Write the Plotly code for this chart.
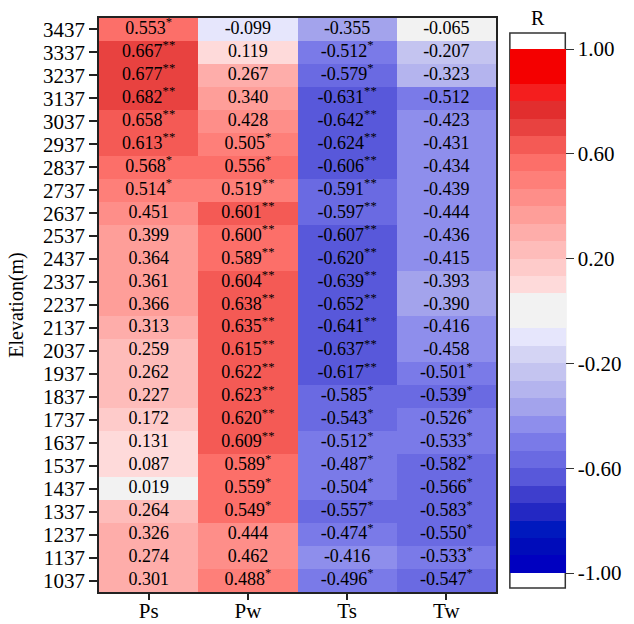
import plotly.graph_objects as go

# Elevation bands, listed from the highest to the lowest
elevations = ["3437", "3337", "3237", "3137", "3037", "2937", "2837", "2737", "2637",
              "2537", "2437", "2337", "2237", "2137", "2037", "1937", "1837", "1737",
              "1637", "1537", "1437", "1337", "1237", "1137", "1037"]
variables = ["Ps", "Pw", "Ts", "Tw"]

# Correlation coefficients (R) per elevation band
ps = [0.553, 0.667, 0.677, 0.682, 0.658, 0.613, 0.568, 0.514, 0.451, 0.399, 0.364, 0.361, 0.366,
      0.313, 0.259, 0.262, 0.227, 0.172, 0.131, 0.087, 0.019, 0.264, 0.326, 0.274, 0.301]
pw = [-0.099, 0.119, 0.267, 0.340, 0.428, 0.505, 0.556, 0.519, 0.601, 0.600, 0.589, 0.604, 0.638,
      0.635, 0.615, 0.622, 0.623, 0.620, 0.609, 0.589, 0.559, 0.549, 0.444, 0.462, 0.488]
ts = [-0.355, -0.512, -0.579, -0.631, -0.642, -0.624, -0.606, -0.591, -0.597, -0.607, -0.620,
      -0.639, -0.652, -0.641, -0.637, -0.617, -0.585, -0.543, -0.512, -0.487, -0.504, -0.557,
      -0.474, -0.416, -0.496]
tw = [-0.065, -0.207, -0.323, -0.512, -0.423, -0.431, -0.434, -0.439, -0.444, -0.436, -0.415,
      -0.393, -0.390, -0.416, -0.458, -0.501, -0.539, -0.526, -0.533, -0.582, -0.566, -0.583,
      -0.550, -0.533, -0.547]

# Significance marks (number of asterisks)
ps_sig = [1, 2, 2, 2, 2, 2, 1, 1, 0, 0, 0, 0, 0, 0, 0, 0, 0, 0, 0, 0, 0, 0, 0, 0, 0]
pw_sig = [0, 0, 0, 0, 0, 1, 1, 2, 2, 2, 2, 2, 2, 2, 2, 2, 2, 2, 2, 1, 1, 1, 0, 0, 1]
ts_sig = [0, 1, 1, 2, 2, 2, 2, 2, 2, 2, 2, 2, 2, 2, 2, 2, 1, 1, 1, 1, 1, 1, 1, 0, 1]
tw_sig = [0, 0, 0, 0, 0, 0, 0, 0, 0, 0, 0, 0, 0, 0, 0, 1, 1, 1, 1, 1, 1, 1, 1, 1, 1]

colorbar_ticks = [1.0, 0.6, 0.2, -0.2, -0.6, -1.0]

# 30 stepped colour levels from -1 to 1
level_colors = [
    (0, 0, 192), (0, 12, 186), (0, 25, 190), (35, 40, 195), (62, 62, 205),
    (88, 88, 218), (106, 106, 226), (122, 122, 232), (142, 142, 236), (163, 163, 236),
    (180, 180, 238), (196, 196, 240), (212, 212, 244), (230, 230, 252), (242, 242, 242),
    (242, 242, 242), (254, 218, 218), (254, 203, 202), (254, 188, 186), (254, 173, 170),
    (254, 158, 153), (254, 142, 137), (254, 127, 121), (252, 111, 105), (244, 90, 85),
    (232, 66, 64), (226, 46, 46), (244, 30, 30), (244, 0, 0), (244, 0, 0),
]
n_levels = len(level_colors)
eps = 1e-4
colorscale = []
for i, c in enumerate(level_colors):
    lo = 0.0 if i == 0 else i / n_levels + eps
    hi = 1.0 if i == n_levels - 1 else (i + 1) / n_levels + eps
    col = "rgb(%d,%d,%d)" % c
    colorscale.append([lo, col])
    colorscale.append([hi, col])

columns = [ps, pw, ts, tw]
sigs = [ps_sig, pw_sig, ts_sig, tw_sig]
z = [[columns[j][i] for j in range(4)] for i in range(len(elevations))]

# plot-area geometry in pixels
L, R, T, B = 99, 500, 18, 592
W, H = R - L, B - T


def px_x(p):
    return (p - L) / W


def px_y(p):
    return (B - p) / H


fig = go.Figure()
fig.add_trace(go.Heatmap(
    z=z, x=variables, y=elevations,
    colorscale=colorscale, zmin=-1, zmax=1,
    xgap=0, ygap=0, hoverinfo="skip",
    colorbar=dict(
        x=px_x(514), xanchor="left", xpad=0,
        y=px_y(311), yanchor="middle", ypad=0,
        lenmode="pixels", len=524, thickness=56,
        outlinewidth=0,
        tickvals=colorbar_ticks, ticktext=["%.2f" % v for v in colorbar_ticks],
        ticks="outside", ticklen=8, tickwidth=1.2, tickcolor="#333",
        tickfont=dict(family="Liberation Serif", size=21, color="black"),
    ),
))

# Value labels with significance asterisks
tx, ty, tt = [], [], []
for j, var in enumerate(variables):
    for i, elev in enumerate(elevations):
        v = columns[j][i]
        s = "%.3f" % v
        if sigs[j][i]:
            s += "<sup>" + "*" * sigs[j][i] + "</sup>"
        tx.append(var)
        ty.append(elev)
        tt.append(s)
fig.add_trace(go.Scatter(
    x=tx, y=ty, text=tt, mode="text",
    textfont=dict(family="Liberation Serif", size=18, color="black"),
    hoverinfo="skip", showlegend=False,
))

# Frame around the colour bar and its title
fig.add_shape(type="rect", xref="paper", yref="paper",
              x0=px_x(514), x1=px_x(570), y0=px_y(588), y1=px_y(33),
              line=dict(color="#333", width=1.5), fillcolor="rgba(0,0,0,0)")
fig.add_annotation(text="R", xref="paper", yref="paper",
                   x=px_x(542), y=px_y(18), xanchor="center", yanchor="middle",
                   showarrow=False,
                   font=dict(family="Liberation Serif", size=20, color="black"))

fig.update_xaxes(
    type="category", range=[-0.5, 3.5], automargin=False,
    showline=True, mirror=True, linecolor="#222", linewidth=1.5,
    ticks="outside", ticklen=6, tickwidth=1.5, tickcolor="#222",
    ticklabelstandoff=-7,
    tickfont=dict(family="Liberation Serif", size=21, color="black"),
    showgrid=False, zeroline=False,
)
fig.update_yaxes(
    type="category", range=[len(elevations) - 0.5, -0.5], automargin=False,
    tickmode="array", tickvals=elevations,
    showline=True, mirror=True, linecolor="#222", linewidth=1.5,
    ticks="outside", ticklen=8, tickwidth=1.5, tickcolor="#222",
    tickfont=dict(family="Liberation Serif", size=21, color="black"),
    title=dict(text="Elevation(m)", font=dict(family="Liberation Serif", size=20, color="black"),
               standoff=14),
    showgrid=False, zeroline=False,
)
fig.update_layout(
    width=634, height=624,
    margin=dict(l=L, r=634 - R, t=T, b=624 - B),
    paper_bgcolor="white", plot_bgcolor="white",
    showlegend=False,
)
fig.write_html("out.html")
